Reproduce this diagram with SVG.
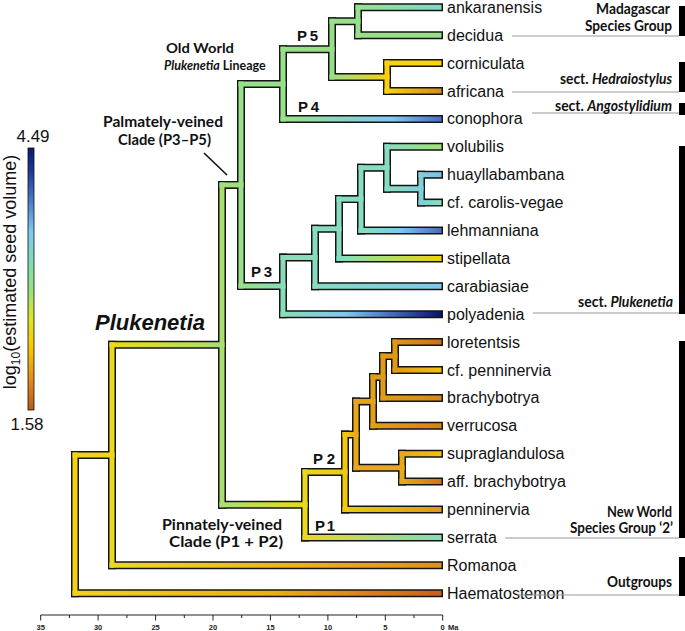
<svg xmlns="http://www.w3.org/2000/svg" width="685" height="631" viewBox="0 0 685 631">
<style>
.ol{stroke:#141414;stroke-width:8;stroke-linecap:square;fill:none}
.br{stroke-width:5;stroke-linecap:square;fill:none}
.tx{font-family:"Liberation Sans",Arial,sans-serif;font-size:16px;fill:#111}
.bl{font-family:Lato,"Liberation Sans",sans-serif;font-weight:bold;font-size:15px;fill:#111}
.pl{font-family:"Liberation Sans",Arial,sans-serif;font-weight:bold;font-size:15px;fill:#111}
.gl{stroke:#9a9a9a;stroke-width:1.2;fill:none}
.bar{fill:#000}
.ax{font-family:"Liberation Sans",Arial,sans-serif;font-size:7.5px;font-weight:bold;fill:#222;text-anchor:middle}
.tk{stroke:#222;stroke-width:1;fill:none}
</style>
<defs>
<linearGradient id="cb" x1="0" y1="0" x2="0" y2="1">
<stop offset="0" stop-color="#0a1a70"/><stop offset="0.08" stop-color="#1a3590"/><stop offset="0.2" stop-color="#4a78c8"/><stop offset="0.32" stop-color="#80c8f0"/><stop offset="0.44" stop-color="#80dcb0"/><stop offset="0.54" stop-color="#98e080"/><stop offset="0.65" stop-color="#dce428"/><stop offset="0.76" stop-color="#f8c800"/><stop offset="0.89" stop-color="#e08a1a"/><stop offset="1" stop-color="#b85a1c"/>
</linearGradient>
<linearGradient id="g2" gradientUnits="userSpaceOnUse" x1="75" y1="0" x2="439" y2="0"><stop offset="0" stop-color="#f2d218"/><stop offset="0.55" stop-color="#e8b012"/><stop offset="1" stop-color="#c86020"/></linearGradient>
<linearGradient id="g1" gradientUnits="userSpaceOnUse" x1="75" y1="0" x2="112" y2="0"><stop offset="0" stop-color="#f2d218"/><stop offset="1" stop-color="#ecd820"/></linearGradient>
<linearGradient id="g3" gradientUnits="userSpaceOnUse" x1="112" y1="0" x2="222" y2="0"><stop offset="0" stop-color="#ecd820"/><stop offset="1" stop-color="#a8e070"/></linearGradient>
<linearGradient id="g4" gradientUnits="userSpaceOnUse" x1="112" y1="0" x2="439" y2="0"><stop offset="0" stop-color="#ecd820"/><stop offset="0.5" stop-color="#eab818"/><stop offset="1" stop-color="#e09020"/></linearGradient>
<linearGradient id="g6" gradientUnits="userSpaceOnUse" x1="222" y1="0" x2="305" y2="0"><stop offset="0" stop-color="#a8e070"/><stop offset="1" stop-color="#e8d820"/></linearGradient>
<linearGradient id="g8" gradientUnits="userSpaceOnUse" x1="241" y1="0" x2="283" y2="0"><stop offset="0" stop-color="#98e08a"/><stop offset="1" stop-color="#88dcb8"/></linearGradient>
<linearGradient id="g10" gradientUnits="userSpaceOnUse" x1="283" y1="0" x2="439" y2="0"><stop offset="0" stop-color="#98e28a"/><stop offset="0.7" stop-color="#80c8f0"/><stop offset="1" stop-color="#4a70c4"/></linearGradient>
<linearGradient id="g12" gradientUnits="userSpaceOnUse" x1="332" y1="0" x2="387" y2="0"><stop offset="0" stop-color="#98e088"/><stop offset="1" stop-color="#f8d010"/></linearGradient>
<linearGradient id="g13" gradientUnits="userSpaceOnUse" x1="358" y1="0" x2="439" y2="0"><stop offset="0" stop-color="#98e090"/><stop offset="1" stop-color="#80d8c8"/></linearGradient>
<linearGradient id="g16" gradientUnits="userSpaceOnUse" x1="387" y1="0" x2="439" y2="0"><stop offset="0" stop-color="#f8d010"/><stop offset="1" stop-color="#d89018"/></linearGradient>
<linearGradient id="g18" gradientUnits="userSpaceOnUse" x1="283" y1="0" x2="439" y2="0"><stop offset="0" stop-color="#88dcb8"/><stop offset="0.4" stop-color="#80c8f0"/><stop offset="0.75" stop-color="#3a5cb0"/><stop offset="1" stop-color="#0a1672"/></linearGradient>
<linearGradient id="g20" gradientUnits="userSpaceOnUse" x1="315" y1="0" x2="439" y2="0"><stop offset="0" stop-color="#88dcc0"/><stop offset="1" stop-color="#80c8ec"/></linearGradient>
<linearGradient id="g22" gradientUnits="userSpaceOnUse" x1="339" y1="0" x2="439" y2="0"><stop offset="0" stop-color="#88dcc0"/><stop offset="0.45" stop-color="#a8e070"/><stop offset="1" stop-color="#f0d010"/></linearGradient>
<linearGradient id="g24" gradientUnits="userSpaceOnUse" x1="361" y1="0" x2="439" y2="0"><stop offset="0" stop-color="#88dcc0"/><stop offset="0.5" stop-color="#80c8f0"/><stop offset="1" stop-color="#4a70c0"/></linearGradient>
<linearGradient id="g25" gradientUnits="userSpaceOnUse" x1="387" y1="0" x2="439" y2="0"><stop offset="0" stop-color="#88dcc0"/><stop offset="1" stop-color="#a0e078"/></linearGradient>
<linearGradient id="g26" gradientUnits="userSpaceOnUse" x1="387" y1="0" x2="421" y2="0"><stop offset="0" stop-color="#88dcc0"/><stop offset="1" stop-color="#80d0d8"/></linearGradient>
<linearGradient id="g27" gradientUnits="userSpaceOnUse" x1="421" y1="0" x2="439" y2="0"><stop offset="0" stop-color="#80d0d8"/><stop offset="1" stop-color="#80c0ec"/></linearGradient>
<linearGradient id="g28" gradientUnits="userSpaceOnUse" x1="421" y1="0" x2="439" y2="0"><stop offset="0" stop-color="#80d0d8"/><stop offset="1" stop-color="#88dcc0"/></linearGradient>
<linearGradient id="g29" gradientUnits="userSpaceOnUse" x1="305" y1="0" x2="345" y2="0"><stop offset="0" stop-color="#e8d820"/><stop offset="1" stop-color="#f0c810"/></linearGradient>
<linearGradient id="g30" gradientUnits="userSpaceOnUse" x1="305" y1="0" x2="439" y2="0"><stop offset="0" stop-color="#e8d820"/><stop offset="1" stop-color="#80dcb8"/></linearGradient>
<linearGradient id="g31" gradientUnits="userSpaceOnUse" x1="345" y1="0" x2="356" y2="0"><stop offset="0" stop-color="#f0c810"/><stop offset="1" stop-color="#e8a818"/></linearGradient>
<linearGradient id="g32" gradientUnits="userSpaceOnUse" x1="345" y1="0" x2="439" y2="0"><stop offset="0" stop-color="#f0c810"/><stop offset="1" stop-color="#e09818"/></linearGradient>
<linearGradient id="g36" gradientUnits="userSpaceOnUse" x1="373" y1="0" x2="439" y2="0"><stop offset="0" stop-color="#e0a018"/><stop offset="1" stop-color="#d88418"/></linearGradient>
<linearGradient id="g38" gradientUnits="userSpaceOnUse" x1="383" y1="0" x2="439" y2="0"><stop offset="0" stop-color="#e09c18"/><stop offset="1" stop-color="#d88818"/></linearGradient>
<linearGradient id="g39" gradientUnits="userSpaceOnUse" x1="395" y1="0" x2="439" y2="0"><stop offset="0" stop-color="#e09818"/><stop offset="1" stop-color="#d07018"/></linearGradient>
<linearGradient id="g40" gradientUnits="userSpaceOnUse" x1="395" y1="0" x2="439" y2="0"><stop offset="0" stop-color="#e09818"/><stop offset="1" stop-color="#f0c010"/></linearGradient>
<linearGradient id="g41" gradientUnits="userSpaceOnUse" x1="402" y1="0" x2="439" y2="0"><stop offset="0" stop-color="#e8a818"/><stop offset="1" stop-color="#f0c010"/></linearGradient>
<linearGradient id="g42" gradientUnits="userSpaceOnUse" x1="402" y1="0" x2="439" y2="0"><stop offset="0" stop-color="#e8a818"/><stop offset="1" stop-color="#d07818"/></linearGradient>
</defs>
<rect width="685" height="631" fill="#fff"/>

<g id="connectors">
<g id="outline" class="ol">
<path d="M75 455.05V593.2M112 344.8V565.3M222 184.9V504.7M241 84V285.9M283 49.15V118.9M332 21.25V77.05M358 7.3V35.2M387 63.1V91M283 257.5V314.2M315 228.75V286.3M339 199.1V258.4M361 167.7V230.5M387 146.8V188.65M421 174.7V202.6M305 472V537.4M345 434.5V509.5M356 401.4V467.65M373 377V425.8M383 356.05V397.9M395 342.1V370M402 453.7V481.6"/>
<path d="M75 455.05H112M75 593.2H439M112 344.8H222M112 565.3H439M222 184.9H241M222 504.7H305M241 84H283M241 285.9H283M283 49.15H332M283 118.9H439M332 21.25H358M332 77.05H387M358 7.3H439M358 35.2H439M387 63.1H439M387 91H439M283 257.5H315M283 314.2H439M315 228.75H339M315 286.3H439M339 199.1H361M339 258.4H439M361 167.7H387M361 230.5H439M387 146.8H439M387 188.65H421M421 174.7H439M421 202.6H439M305 472H345M305 537.4H439M345 434.5H356M345 509.5H439M356 401.4H373M356 467.65H402M373 377H383M373 425.8H439M383 356.05H395M383 397.9H439M395 342.1H439M395 370H439M402 453.7H439M402 481.6H439"/>
</g>
<g id="verticals" class="br">
<path d="M75 455.05V593.2" stroke="#f2d218"/>
<path d="M112 344.8V565.3" stroke="#ecd820"/>
<path d="M222 184.9V504.7" stroke="#a8e070"/>
<path d="M241 84V285.9" stroke="#98e08a"/>
<path d="M283 49.15V118.9" stroke="#98e28a"/>
<path d="M332 21.25V77.05" stroke="#98e088"/>
<path d="M358 7.3V35.2" stroke="#98e090"/>
<path d="M387 63.1V91" stroke="#f8d010"/>
<path d="M283 257.5V314.2" stroke="#88dcb8"/>
<path d="M315 228.75V286.3M339 199.1V258.4M361 167.7V230.5M387 146.8V188.65" stroke="#88dcc0"/>
<path d="M421 174.7V202.6" stroke="#80d0d8"/>
<path d="M305 472V537.4" stroke="#e8d820"/>
<path d="M345 434.5V509.5" stroke="#f0c810"/>
<path d="M356 401.4V467.65" stroke="#e8a818"/>
<path d="M373 377V425.8" stroke="#e0a018"/>
<path d="M383 356.05V397.9" stroke="#e09c18"/>
<path d="M395 342.1V370" stroke="#e09818"/>
<path d="M402 453.7V481.6" stroke="#e8a818"/>
</g>
<g id="branches" class="br">
<path d="M75 455.05H112" stroke="url(#g1)"/>
<path d="M75 593.2H439" stroke="url(#g2)"/>
<path d="M112 344.8H222" stroke="url(#g3)"/>
<path d="M112 565.3H439" stroke="url(#g4)"/>
<path d="M222 184.9H241" stroke="#a0e07c"/>
<path d="M222 504.7H305" stroke="url(#g6)"/>
<path d="M241 84H283" stroke="#98e08a"/>
<path d="M241 285.9H283" stroke="url(#g8)"/>
<path d="M283 49.15H332" stroke="#98e088"/>
<path d="M283 118.9H439" stroke="url(#g10)"/>
<path d="M332 21.25H358" stroke="#98e08c"/>
<path d="M332 77.05H387" stroke="url(#g12)"/>
<path d="M358 7.3H439" stroke="url(#g13)"/>
<path d="M358 35.2H439" stroke="#98e088"/>
<path d="M387 63.1H439" stroke="#f8d20c"/>
<path d="M387 91H439" stroke="url(#g16)"/>
<path d="M283 257.5H315" stroke="#88dcbc"/>
<path d="M283 314.2H439" stroke="url(#g18)"/>
<path d="M315 228.75H339" stroke="#88dcc0"/>
<path d="M315 286.3H439" stroke="url(#g20)"/>
<path d="M339 199.1H361" stroke="#88dcc0"/>
<path d="M339 258.4H439" stroke="url(#g22)"/>
<path d="M361 167.7H387" stroke="#88dcc0"/>
<path d="M361 230.5H439" stroke="url(#g24)"/>
<path d="M387 146.8H439" stroke="url(#g25)"/>
<path d="M387 188.65H421" stroke="url(#g26)"/>
<path d="M421 174.7H439" stroke="url(#g27)"/>
<path d="M421 202.6H439" stroke="url(#g28)"/>
<path d="M305 472H345" stroke="url(#g29)"/>
<path d="M305 537.4H439" stroke="url(#g30)"/>
<path d="M345 434.5H356" stroke="url(#g31)"/>
<path d="M345 509.5H439" stroke="url(#g32)"/>
<path d="M356 401.4H373" stroke="#e4a418"/>
<path d="M356 467.65H402" stroke="#e8a818"/>
<path d="M373 377H383" stroke="#e09e18"/>
<path d="M373 425.8H439" stroke="url(#g36)"/>
<path d="M383 356.05H395" stroke="#e09a18"/>
<path d="M383 397.9H439" stroke="url(#g38)"/>
<path d="M395 342.1H439" stroke="url(#g39)"/>
<path d="M395 370H439" stroke="url(#g40)"/>
<path d="M402 453.7H439" stroke="url(#g41)"/>
<path d="M402 481.6H439" stroke="url(#g42)"/>
</g>
<path d="M204 153L227 175" stroke="#111" stroke-width="1.6" fill="none"/>
</g>

<g id="taxa" class="tx">
<g id="t-ankaranensis"><text x="447" y="12.8">ankaranensis</text></g>
<g id="t-decidua"><text x="447" y="40.7">decidua</text></g>
<g id="t-corniculata"><text x="447" y="68.6">corniculata</text></g>
<g id="t-africana"><text x="447" y="96.5">africana</text></g>
<g id="t-conophora"><text x="447" y="124.4">conophora</text></g>
<g id="t-volubilis"><text x="447" y="152.3">volubilis</text></g>
<g id="t-huayllabambana"><text x="447" y="180.2">huayllabambana</text></g>
<g id="t-carolis-vegae"><text x="447" y="208.1">cf. carolis-vegae</text></g>
<g id="t-lehmanniana"><text x="447" y="236">lehmanniana</text></g>
<g id="t-stipellata"><text x="447" y="263.9">stipellata</text></g>
<g id="t-carabiasiae"><text x="447" y="291.8">carabiasiae</text></g>
<g id="t-polyadenia"><text x="447" y="319.7">polyadenia</text></g>
<g id="t-loretentsis"><text x="447" y="347.6">loretentsis</text></g>
<g id="t-cf-penninervia"><text x="447" y="375.5">cf. penninervia</text></g>
<g id="t-brachybotrya"><text x="447" y="403.4">brachybotrya</text></g>
<g id="t-verrucosa"><text x="447" y="431.3">verrucosa</text></g>
<g id="t-supraglandulosa"><text x="447" y="459.2">supraglandulosa</text></g>
<g id="t-aff-brachybotrya"><text x="447" y="487.1">aff. brachybotrya</text></g>
<g id="t-penninervia"><text x="447" y="515">penninervia</text></g>
<g id="t-serrata"><text x="447" y="542.9">serrata</text></g>
<g id="t-romanoa"><text x="447" y="570.8">Romanoa</text></g>
<g id="t-haematostemon"><text x="447" y="598.7">Haematostemon</text></g>
</g>

<g id="groups">
<g id="grp-madagascar">
<path class="gl" d="M512 36H679"/>
<rect class="bar" x="679" y="6" width="6" height="30"/>
<text class="bl" x="670" y="13.5" text-anchor="end" textLength="74" lengthAdjust="spacingAndGlyphs">Madagascar</text>
<text class="bl" x="672" y="31" text-anchor="end" textLength="87" lengthAdjust="spacingAndGlyphs">Species Group</text>
</g>
<g id="grp-hedraiostylus">
<path class="gl" d="M512 92H679"/>
<rect class="bar" x="679" y="62" width="6" height="30"/>
<text class="bl" x="672" y="84" text-anchor="end" textLength="112" lengthAdjust="spacingAndGlyphs">sect. <tspan font-style="italic">Hedraiostylus</tspan></text>
</g>
<g id="grp-angostylidium">
<path class="gl" d="M532 113H679"/>
<rect class="bar" x="679" y="103" width="6" height="12"/>
<text class="bl" x="672" y="111" text-anchor="end" textLength="117" lengthAdjust="spacingAndGlyphs">sect. <tspan font-style="italic">Angostylidium</tspan></text>
</g>
<g id="grp-plukenetia">
<path class="gl" d="M533 313H679"/>
<rect class="bar" x="679" y="146" width="6" height="168"/>
<text class="bl" x="673" y="307" text-anchor="end" textLength="95" lengthAdjust="spacingAndGlyphs">sect. <tspan font-style="italic">Plukenetia</tspan></text>
</g>
<g id="grp-newworld">
<path class="gl" d="M505 538H679"/>
<rect class="bar" x="679" y="341" width="6" height="197"/>
<text class="bl" x="672" y="516.5" text-anchor="end" textLength="65" lengthAdjust="spacingAndGlyphs">New World</text>
<text class="bl" x="673" y="533" text-anchor="end" textLength="103" lengthAdjust="spacingAndGlyphs">Species Group ‘2’</text>
</g>
<g id="grp-outgroups">
<path class="gl" d="M517 595H679"/>
<rect class="bar" x="679" y="557" width="6" height="39"/>
<text class="bl" x="672" y="587" text-anchor="end" textLength="65" lengthAdjust="spacingAndGlyphs">Outgroups</text>
</g>
</g>

<g id="clade-labels">
<g id="lbl-oldworld">
<text class="bl" x="166" y="52.5" textLength="68" lengthAdjust="spacingAndGlyphs" style="font-size:14px">Old World</text>
<text class="bl" x="164" y="70" style="font-size:12.5px"><tspan font-style="italic">Plukenetia</tspan> Lineage</text>
</g>
<g id="lbl-palmately">
<text class="bl" x="163" y="127" text-anchor="middle" textLength="120" lengthAdjust="spacingAndGlyphs">Palmately-veined</text>
<text class="bl" x="164.5" y="145" text-anchor="middle" textLength="93" lengthAdjust="spacingAndGlyphs">Clade (P3–P5)</text>
</g>
<g id="lbl-pinnately">
<text class="bl" x="222" y="530" text-anchor="middle" textLength="120" lengthAdjust="spacingAndGlyphs">Pinnately-veined</text>
<text class="bl" x="226" y="547" text-anchor="middle" textLength="114" lengthAdjust="spacingAndGlyphs">Clade (P1 + P2)</text>
</g>
<g id="lbl-plukenetia">
<text x="95" y="330" font-family="'Liberation Sans',Arial,sans-serif" font-size="22" font-weight="bold" font-style="italic" fill="#111" textLength="110">Plukenetia</text>
</g>
<g id="lbl-p"><text class="pl" x="297" y="41" textLength="21">P5</text>
<text class="pl" x="298" y="112" textLength="21">P4</text>
<text class="pl" x="251" y="277" textLength="21">P3</text>
<text class="pl" x="313" y="464" textLength="22">P2</text>
<text class="pl" x="315" y="531" textLength="20">P1</text></g>
</g>

<g id="colorbar">
<rect x="28" y="148" width="6" height="262" fill="url(#cb)" stroke="#111" stroke-width="0.8"/>
<text x="33" y="142" text-anchor="middle" font-family="'Liberation Sans',Arial,sans-serif" font-size="17" fill="#111">4.49</text>
<text x="27" y="430" text-anchor="middle" font-family="'Liberation Sans',Arial,sans-serif" font-size="17" fill="#111">1.58</text>
<text transform="translate(15.5,272) rotate(-90)" text-anchor="middle" font-family="'Liberation Sans',Arial,sans-serif" font-size="18" fill="#111">log<tspan font-size="12" dy="4">10</tspan><tspan dy="-4">(estimated seed volume)</tspan></text>
</g>

<g id="axis">
<path class="tk" d="M40.7 615H442.7"/>
<path class="tk" d="M40.7 615v5.5M98.1 615v5.5M155.6 615v5.5M213 615v5.5M270.4 615v5.5M327.9 615v5.5M385.3 615v5.5M442.7 615v5.5"/>
<path class="tk" d="M69.4 615v3M126.9 615v3M184.3 615v3M241.7 615v3M299.2 615v3M356.6 615v3M414 615v3"/>
<g class="ax">
<text x="40.7" y="630">35</text><text x="98.1" y="630">30</text><text x="155.6" y="630">25</text><text x="213" y="630">20</text><text x="270.4" y="630">15</text><text x="327.9" y="630">10</text><text x="385.3" y="630">5</text><text x="442.7" y="630">0</text>
<text x="448" y="630" text-anchor="start">Ma</text>
</g>
</g>
</svg>
